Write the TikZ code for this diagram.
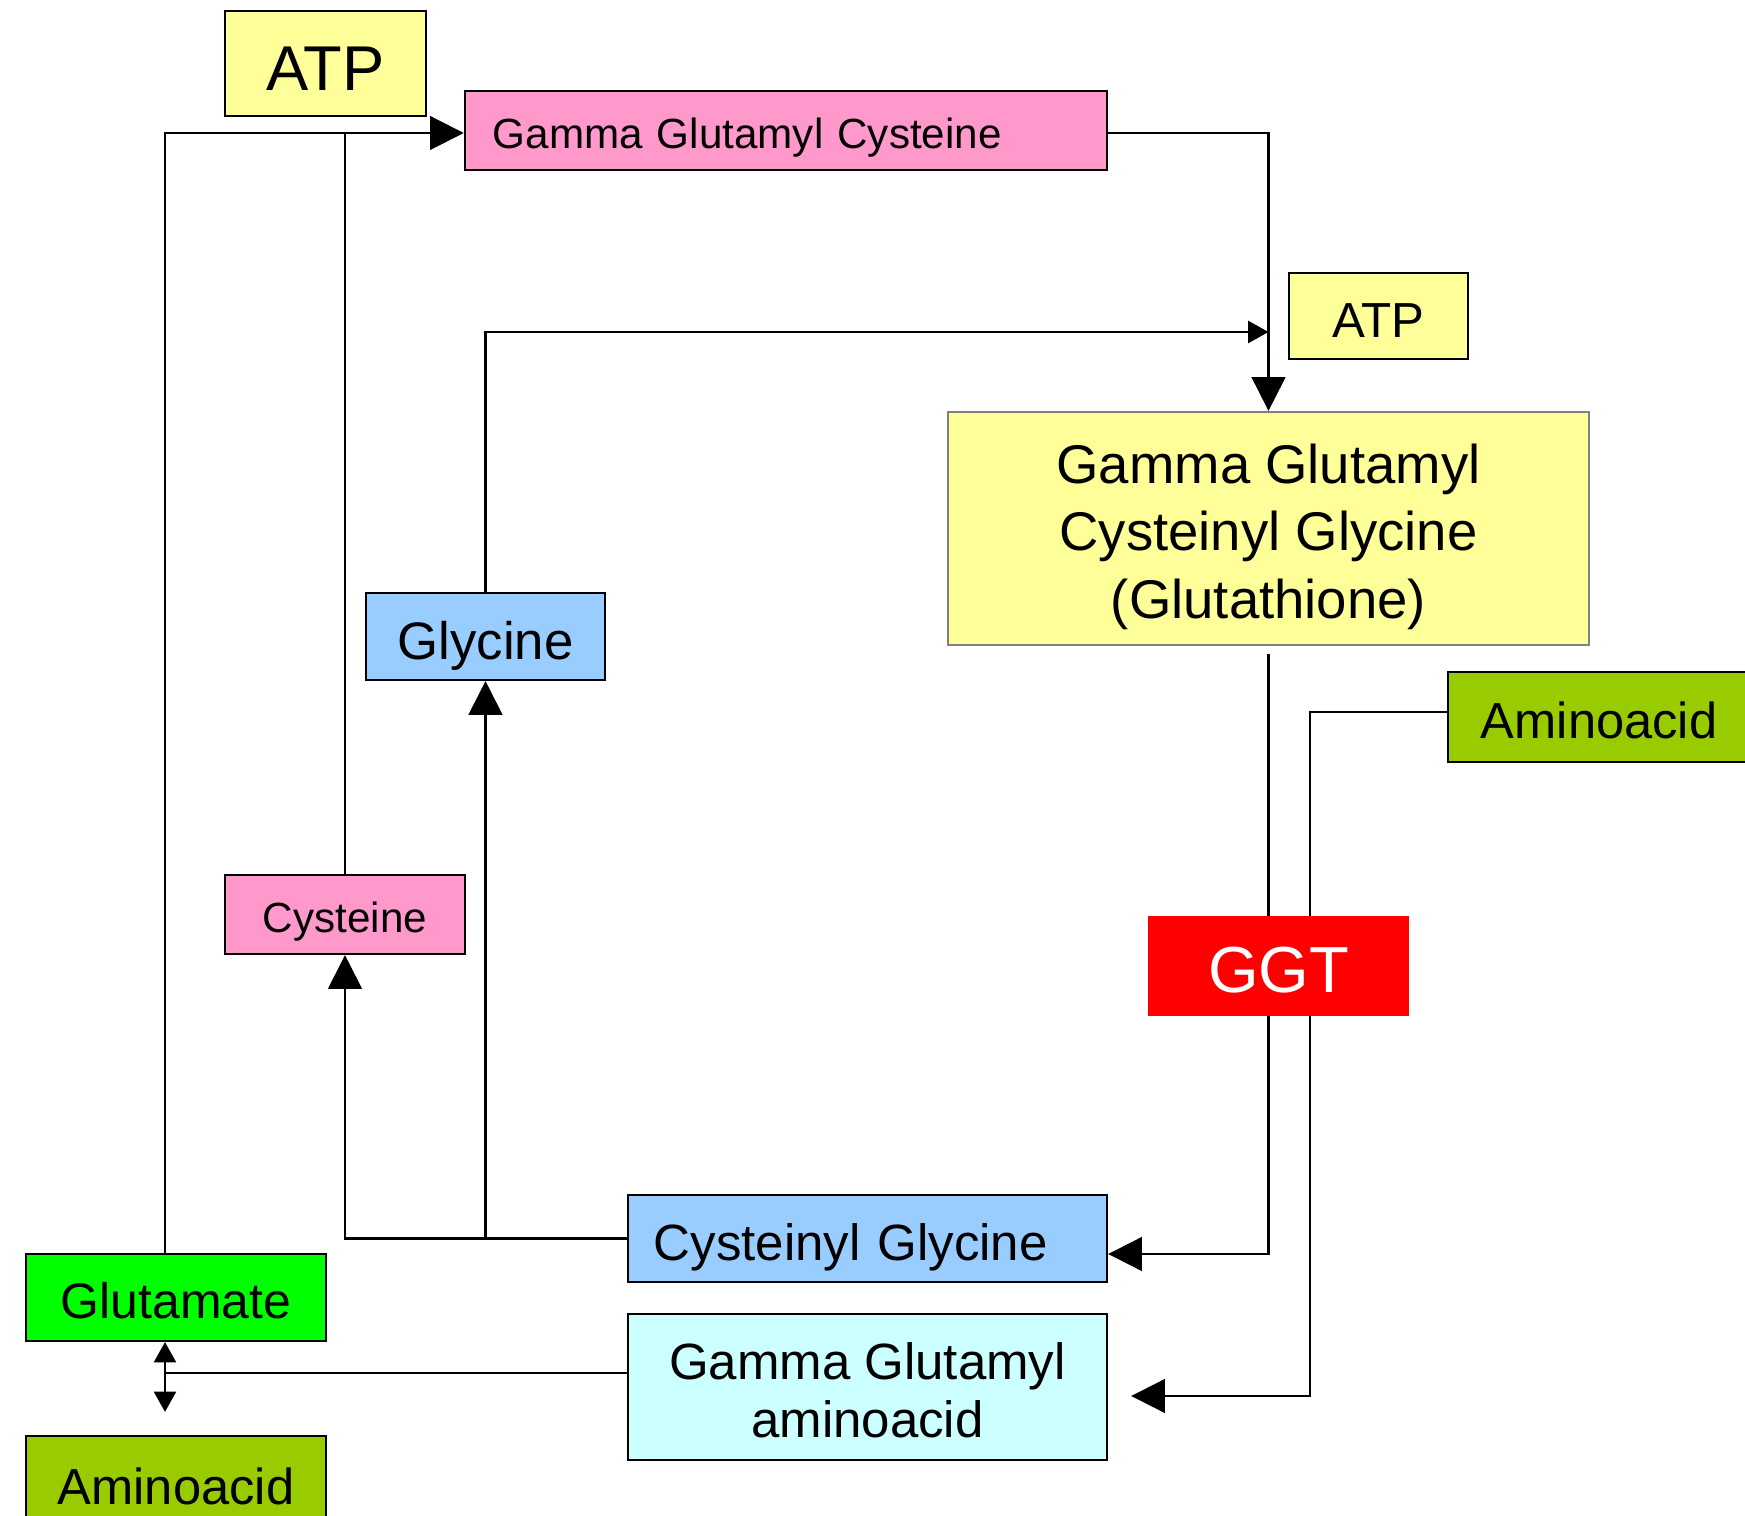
\documentclass[tikz,border=0pt]{standalone}
\usepackage{fontspec}
\setmainfont{Liberation Sans}
\usetikzlibrary{arrows.meta,calc}

\definecolor{atpyellow}{HTML}{FFFF99}
\definecolor{cyspink}{HTML}{FF99CC}
\definecolor{glyblue}{HTML}{99CCFF}
\definecolor{aagreen}{HTML}{99CC00}
\definecolor{glugreen}{HTML}{00FF00}
\definecolor{ggaacyan}{HTML}{CCFFFF}

\tikzset{
  box/.style={draw, line width=0.6pt, inner sep=0pt, align=center},
  oneline/.style={text height=#1, text depth=0pt},
  bigtip/.style={-{Triangle[length=9.6pt,width=9.6pt]}},
  smalltip/.style={-{Triangle[length=5.8pt,width=6.3pt]}},
  dbltip/.style={{Triangle[length=5.8pt,width=6.3pt]}-{Triangle[length=5.8pt,width=6.3pt]}},
}

\begin{document}
\begin{tikzpicture}[x=0.01cm, y=-0.01cm, line width=0.6pt]
  \useasboundingbox (0,0) rectangle (1745,1516);

  \node[box, oneline=15.5pt, fill=atpyellow, minimum width=2.01cm, minimum height=1.05cm, font=\fontsize{18}{20}\selectfont] (atpa) at (325.5,63.5) {ATP};
  \node[box, oneline=10.3pt, fill=cyspink, text width=5.86cm, inner xsep=0.28cm, minimum height=0.79cm, align=left, font=\fontsize{12}{14}\selectfont] (ggc) at (786,130.5) {Gamma Glutamyl Cysteine};
  \node[box, oneline=12pt, fill=atpyellow, minimum width=1.79cm, minimum height=0.86cm, font=\fontsize{14}{16}\selectfont] (atpb) at (1378.5,316) {ATP};
  \node[box, draw=gray, fill=atpyellow, minimum width=6.41cm, minimum height=2.33cm, font=\fontsize{15.5}{19.2}\selectfont] (gsh) at (1268.5,528.5) {\rule{0pt}{15.8pt}Gamma Glutamyl\\Cysteinyl Glycine\\(Glutathione)};
  \node[box, oneline=12.9pt, fill=glyblue, minimum width=2.39cm, minimum height=0.87cm, font=\fontsize{15}{17}\selectfont] (gly) at (485.5,636.5) {Glycine};
  \node[box, oneline=12.4pt, fill=aagreen, minimum width=3.02cm, minimum height=0.90cm, font=\fontsize{14.4}{17}\selectfont] (aar) at (1599,717) {Aminoacid};
  \node[box, oneline=10.3pt, fill=cyspink, minimum width=2.40cm, minimum height=0.79cm, font=\fontsize{12}{14}\selectfont] (cys) at (345,914.5) {Cysteine};
  \node[box, oneline=12.5pt, fill=glyblue, text width=4.27cm, inner xsep=0.26cm, minimum height=0.87cm, align=left, font=\fontsize{14.5}{17}\selectfont] (cg) at (867.5,1238.5) {Cysteinyl Glycine};
  \node[box, oneline=12.2pt, fill=glugreen, minimum width=3.00cm, minimum height=0.87cm, font=\fontsize{14.2}{17}\selectfont] (glu) at (176,1297.5) {Glutamate};
  \node[box, fill=ggaacyan, minimum width=4.79cm, minimum height=1.46cm, font=\fontsize{14.5}{16.5}\selectfont] (ggaa) at (867.5,1387) {\rule{0pt}{12.6pt}Gamma Glutamyl\\aminoacid};
  \node[box, oneline=12.4pt, fill=aagreen, minimum width=3.00cm, minimum height=0.94cm, font=\fontsize{14.4}{17}\selectfont] (aab) at (176,1483) {Aminoacid};

  \coordinate (lft) at (165,0);
  \coordinate (glyturn) at (485.5,332);
  \coordinate (ggcin) at ($(ggc.west)+(0,2.5)$);
  \coordinate (ggcout) at ($(ggc.east)+(0,2.5)$);
  \coordinate (aarout) at ($(aar.west)+(0,-5)$);
  \coordinate (ggaaout) at ($(ggaa.west)+(0,-14)$);

  \draw[bigtip] (glu.north -| lft) |- (ggcin);
  \draw (cys.north) -- (cys.north |- ggcin);
  \draw[bigtip] (ggcout) -| (gsh.north);
  \draw[smalltip] (gly.north) -- (glyturn) -- (glyturn -| gsh.north);
  \draw[bigtip] ($(gsh.south)+(0,8)$) |- ($(cg.east)+(0,15.5)$);
  \draw[bigtip] (aarout) -| ($(ggaa.east)+(202,9)$) -- ($(ggaa.east)+(23,9)$);
  \draw[bigtip] (cg.west) -| (cys.south);
  \draw[bigtip] (cg.west -| gly.south) -- (gly.south);
  \draw (ggaaout) -- (ggaaout -| lft);
  \draw[dbltip] (glu.south -| lft) -- ($(aab.north -| lft)+(0,-23)$);

  \node[oneline=14.8pt, fill=red, text=white, inner sep=0pt, minimum width=2.61cm, minimum height=1.00cm, font=\fontsize{18.5}{20}\selectfont] (ggt) at (1278.5,966) {GGT};
\end{tikzpicture}
\end{document}
